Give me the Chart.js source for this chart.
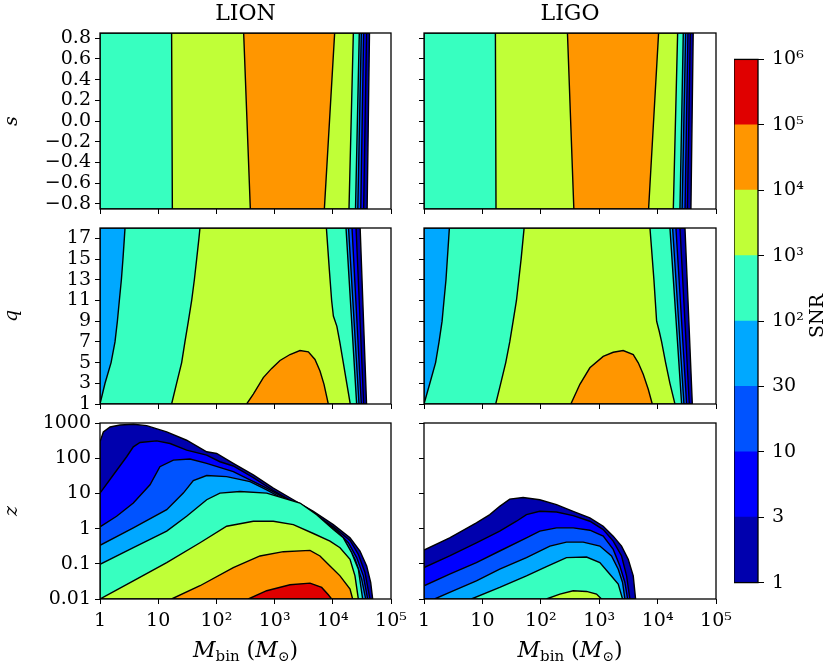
<!DOCTYPE html>
<html>
<head>
<meta charset="utf-8">
<script src="https://cdn.jsdelivr.net/npm/chart.js@4.4.0/dist/chart.umd.min.js"></script>
<style>
body { margin: 0; background: #fff; }
#wrap { position: relative; width: 830px; height: 668px; overflow: hidden; background: #fff; }
canvas { position: absolute; }
</style>
</head>
<body>
<div id="wrap"></div>
<script>
// colours of the 8 SNR bands (1-3, 3-10, 10-30, 30-100, 1e2-1e3, 1e3-1e4, 1e4-1e5, 1e5-1e6)
var bandColors = ['#0000ae', '#0000ff', '#0053ff', '#00a8ff', '#37ffc0', '#c0ff37', '#ff9600', '#e00000'];
var cbTickText = ['1', '3', '10', '30', '10²', '10³', '10⁴', '10⁵', '10⁶'];

var xTickVals = [1, 10, 100, 1000, 10000, 100000];
var xTickText = ['1', '10', '10²', '10³', '10⁴', '10⁵'];
var sTickVals = [-0.8, -0.6, -0.4, -0.2, 0, 0.2, 0.4, 0.6, 0.8];
var sTickText = ['−0.8', '−0.6', '−0.4', '−0.2', '0.0', '0.2', '0.4', '0.6', '0.8'];
var qTickVals = [1, 3, 5, 7, 9, 11, 13, 15, 17];
var qTickText = ['1', '3', '5', '7', '9', '11', '13', '15', '17'];
var zTickVals = [0.01, 0.1, 1, 10, 100, 1000];
var zTickText = ['0.01', '0.1', '1', '10', '100', '1000'];

// ---- contour lines, [M_bin, y] ----
// s panels: left edge and contour positions at s = -0.85 / 0.85
var edgeS = [[1, -0.85], [1, 0.85]];
var lionS1e3lo = [[17.5, -0.85], [17.0, 0.85]];
var lionS1e4lo = [[383, -0.85], [294, 0.85]];
var lionS1e4hi = [[7160, -0.85], [10760, 0.85]];
var lionS1e3hi = [[18970, -0.85], [22540, 0.85]];
var lionS100hi = [[24550, -0.85], [28510, 0.85]];
var lionS30hi = [[26900, -0.85], [30900, 0.85]];
var lionS10hi = [[30200, -0.85], [33900, 0.85]];
var lionS3hi = [[33900, -0.85], [38000, 0.85]];
var lionS1hi = [[38900, -0.85], [42700, 0.85]];

var ligoS1e3lo = [[17.1, -0.85], [16.7, 0.85]];
var ligoS1e4lo = [[368, -0.85], [286, 0.85]];
var ligoS1e4hi = [[7010, -0.85], [10400, 0.85]];
var ligoS1e3hi = [[18580, -0.85], [22030, 0.85]];
var ligoS100hi = [[24150, -0.85], [27540, 0.85]];
var ligoS30hi = [[26300, -0.85], [30200, 0.85]];
var ligoS10hi = [[29500, -0.85], [33100, 0.85]];
var ligoS3hi = [[32400, -0.85], [36300, 0.85]];
var ligoS1hi = [[37200, -0.85], [40700, 0.85]];

// q panels
var edgeQ = [[1, 1], [1, 18]];
var lionQ100lo = [[1, 1], [1.22, 3], [1.55, 5], [1.81, 7], [1.99, 9], [2.15, 11], [2.33, 13], [2.48, 15], [2.62, 17], [2.69, 18]];
var lionQ1e3lo = [[17.0, 1], [20.7, 3], [25.3, 5], [28.8, 7], [33.0, 9], [37.6, 11], [41.8, 13], [45.8, 15], [50.1, 17], [52.2, 18]];
var lionQ1e3hi = [[19950, 1], [17380, 3], [15140, 5], [13180, 7], [11750, 8.5], [10230, 9.5], [9550, 11], [8710, 14], [7760, 18]];
var lionQ100hi = [[25700, 1], [16870, 18]];
var lionQ30hi = [[28200, 1], [18620, 18]];
var lionQ10hi = [[30900, 1], [21380, 18]];
var lionQ3hi = [[33900, 1], [25100, 18]];
var lionQ1hi = [[38000, 1], [29500, 18]];
var lionQ1e4 = [[331, 1], [431, 1.96], [640, 3.55], [891, 4.44], [1239, 5.2], [1841, 5.78], [2729, 6.16], [3802, 6.04], [4943, 5.3], [6026, 4.19], [7063, 2.9], [8375, 1]];

var ligoQ100lo = [[1, 1], [1.26, 3], [1.58, 5], [1.81, 7], [2.04, 9], [2.2, 11], [2.38, 13], [2.51, 15], [2.65, 17], [2.72, 18]];
var ligoQ1e3lo = [[16.9, 1], [20.6, 3], [25.1, 5], [29.4, 7], [33.6, 9], [38.3, 11], [42.0, 13], [46.0, 15], [49.8, 17], [51.8, 18]];
var ligoQ1e3hi = [[19820, 1], [16260, 3], [13710, 5], [11720, 7], [10690, 8], [9620, 9], [9120, 11], [8650, 13], [7400, 18]];
var ligoQ100hi = [[25780, 1], [16270, 18]];
var ligoQ30hi = [[28250, 1], [18070, 18]];
var ligoQ10hi = [[31410, 1], [20610, 18]];
var ligoQ3hi = [[34910, 1], [24150, 18]];
var ligoQ1hi = [[39300, 1], [29420, 18]];
var ligoQ1e4 = [[327, 1], [467, 2.9], [692, 4.5], [1172, 5.6], [1738, 6.0], [2576, 6.16], [3828, 5.78], [4667, 4.98], [5675, 3.87], [6918, 2.43], [8110, 1]];

// z panels: upper edge of each SNR level
var lionZ1 = [[1, 291], [1.14, 557], [1.49, 771], [2.21, 879], [3.74, 917], [6.34, 841], [14.0, 557], [30.8, 324], [68.1, 152], [101, 136], [195, 71.3], [431, 33.4], [951, 14.1], [2099, 6.6], [4634, 3.09], [10210, 1.30], [19770, 0.548], [29310, 0.231], [38190, 0.087], [44770, 0.0295], [48420, 0.01]];
var lionZ3 = [[1, 10.2], [1.69, 33.4], [2.87, 110], [3.74, 210], [4.87, 279], [9.41, 310], [16.0, 261], [30.8, 169], [68.1, 122], [115, 79.4], [195, 60], [431, 28.1], [951, 12.1], [2099, 5.68], [4634, 2.66], [10210, 1.12], [19770, 0.461], [27480, 0.186], [35730, 0.0565], [43550, 0.01]];
var lionZ10 = [[1, 1.12], [1.93, 2.24], [3.74, 5.32], [7.23, 17.5], [10.7, 57.4], [18.2, 88.5], [35.2, 94.6], [68.1, 71.3], [195, 41.5], [731, 14.1], [2729, 4.29], [10210, 1.05], [18490, 0.396], [25700, 0.15], [33500, 0.0455], [39700, 0.01]];
var lionZ30 = [[1, 0.333], [3.74, 1.05], [14.0, 3.45], [27.0, 10.2], [40.1, 23.2], [68.1, 32.1], [150, 30.0], [378, 21.7], [731, 12.6], [2729, 3.85], [10210, 0.94], [17300, 0.356], [24050, 0.134], [31330, 0.0366], [36730, 0.01]];
var lionZ100 = [[1, 0.097], [3.74, 0.286], [14.0, 0.845], [30.8, 2.24], [68.1, 6.61], [115, 10.2], [254, 11.3], [731, 10.2], [2729, 5.32], [5280, 2.49], [10210, 0.94], [15170, 0.548], [21080, 0.207], [27480, 0.0702], [32590, 0.01]];
var lionZ1e3 = [[1, 0.01], [3.74, 0.0329], [14.0, 0.108], [52.3, 0.396], [150, 1.17], [431, 1.62], [951, 1.62], [2099, 1.30], [4634, 0.726], [8950, 0.442], [13300, 0.286], [19770, 0.134], [24050, 0.0455], [27480, 0.01]];
var lionZ1e4 = [[17.0, 0.01], [52.3, 0.0238], [195, 0.0782], [561, 0.167], [1413, 0.221], [4055, 0.241], [6026, 0.167], [8950, 0.087], [13300, 0.0455], [19770, 0.0191], [21930, 0.01]];
var lionZ1e5 = [[354, 0.01], [731, 0.0172], [1841, 0.0254], [4055, 0.0283], [6442, 0.0213], [8375, 0.0132], [9570, 0.01]];

var ligoZ1 = [[1, 0.246], [2.75, 0.548], [7.89, 1.45], [13.4, 2.49], [19.8, 4.29], [29.4, 6.89], [49.8, 7.67], [96.1, 6.61], [186, 4.78], [358, 3.10], [692, 2.01], [1172, 1.17], [1738, 0.611], [2415, 0.319], [3141, 0.134], [3828, 0.0455], [4198, 0.01]];
var ligoZ3 = [[1, 0.0782], [2.75, 0.167], [7.89, 0.396], [19.8, 0.845], [38.3, 1.62], [56.8, 2.49], [96.1, 3.10], [186, 2.97], [358, 2.33], [692, 1.62], [1172, 0.94], [1738, 0.442], [2415, 0.167], [2944, 0.0455], [3357, 0.01]];
var ligoZ10 = [[1, 0.0238], [2.75, 0.0507], [7.89, 0.108], [19.8, 0.231], [56.8, 0.548], [96.1, 0.845], [186, 1.05], [358, 1.05], [692, 0.901], [1172, 0.611], [1738, 0.257], [2259, 0.087], [2754, 0.0295], [3062, 0.01]];
var ligoZ30 = [[1.52, 0.01], [2.75, 0.0154], [7.89, 0.0329], [19.8, 0.0702], [56.8, 0.15], [143, 0.319], [275, 0.414], [532, 0.414], [1026, 0.319], [1626, 0.167], [2118, 0.0702], [2512, 0.0295], [2754, 0.01]];
var ligoZ100 = [[6.48, 0.01], [19.8, 0.0213], [56.8, 0.0455], [125, 0.0834], [275, 0.15], [607, 0.156], [1026, 0.108], [1524, 0.0507], [2118, 0.0265], [2512, 0.01]];
var ligoZ1e3 = [[125, 0.01], [212, 0.0138], [358, 0.0172], [607, 0.0164], [900, 0.0138], [1096, 0.01]];

var FONT = 'DejaVu Serif';
var FS = 19;

// polygon between a left and a right contour (both listed bottom to top)
function band(left, right) {
  var pts = left.concat(right.slice().reverse());
  pts.push(left[0]);
  return pts;
}
// polygon under a z contour, down to z = 0.01
function under(curve) {
  var pts = [];
  if (curve[0][1] > 0.01) pts.push([1, 0.01]);
  pts = pts.concat(curve);
  pts.push(pts[0]);
  return pts;
}
function closed(curve) {
  return curve.concat([curve[0]]);
}

function makeSets(polys) {
  // polys[k] = [polygon, level index]
  return polys.map(function (p) {
    return {
      data: p[0].map(function (v) { return { x: v[0], y: v[1] }; }),
      showLine: true,
      fill: 'shape',
      backgroundColor: bandColors[p[1]],
      borderColor: '#000',
      borderWidth: 1.4,
      pointRadius: 0,
      pointHoverRadius: 0,
      tension: 0,
      order: 20 - p[1]
    };
  });
}

var framePlugin = {
  id: 'frame',
  afterDatasetsDraw: function (chart) {
    var a = chart.chartArea, c = chart.ctx;
    c.save();
    c.strokeStyle = '#000';
    c.lineWidth = 1.3;
    c.strokeRect(a.left, a.top, a.right - a.left, a.bottom - a.top);
    c.restore();
  }
};

var wrap = document.getElementById('wrap');
function addCanvas(left, top, w, h) {
  var cv = document.createElement('canvas');
  cv.width = w; cv.height = h;
  cv.style.left = left + 'px'; cv.style.top = top + 'px';
  cv.style.width = w + 'px'; cv.style.height = h + 'px';
  wrap.appendChild(cv);
  return cv;
}

var colX = [[100, 391], [424, 716]];
var rowY = [[33, 209], [228, 404], [423, 599]];

function panel(col, row, yCfg, polys, title) {
  var x0 = colX[col][0], x1 = colX[col][1];
  var y0 = rowY[row][0], y1 = rowY[row][1];
  var padTop = row === 0 ? 33 : 20;
  var xH = row === 2 ? 69 : 20;
  var w = 100 + (x1 - x0) + 30;
  var h = padTop + (y1 - y0) + xH;
  var cv = addCanvas(x0 - 100, y0 - padTop, w, h);
  var plugins = [framePlugin];
  if (title) {
    plugins.push({
      id: 'head',
      afterDraw: function (chart) {
        var c = chart.ctx, a = chart.chartArea;
        c.save();
        c.font = '22px "' + FONT + '"';
        c.fillStyle = '#000';
        c.textAlign = 'center';
        c.textBaseline = 'alphabetic';
        c.fillText(title, (a.left + a.right) / 2, 20);
        c.restore();
      }
    });
  }
  if (row === 2) {
    plugins.push({
      id: 'xlabel',
      afterDraw: function (chart) {
        var c = chart.ctx, a = chart.chartArea;
        var parts = [
          ['M', 'italic 22px "' + FONT + '"', 0],
          ['bin', '15px "' + FONT + '"', 4],
          [' (', '22px "' + FONT + '"', 0],
          ['M', 'italic 22px "' + FONT + '"', 0],
          ['⊙', '14px "' + FONT + '"', 4],
          [')', '22px "' + FONT + '"', 0]
        ];
        c.save();
        c.fillStyle = '#000';
        c.textBaseline = 'alphabetic';
        var total = 0;
        parts.forEach(function (p) { c.font = p[1]; total += c.measureText(p[0]).width; });
        var x = (a.left + a.right) / 2 - total / 2;
        var base = 657 - (y0 - padTop);
        parts.forEach(function (p) {
          c.font = p[1];
          c.fillText(p[0], x, base + p[2]);
          x += c.measureText(p[0]).width;
        });
        c.restore();
      }
    });
  }
  var showY = col === 0, showX = row === 2;
  new Chart(cv, {
    type: 'scatter',
    data: { datasets: makeSets(polys) },
    options: {
      responsive: false,
      animation: false,
      devicePixelRatio: 1,
      layout: { padding: { left: 0, right: 30, top: padTop, bottom: 0 } },
      plugins: { legend: { display: false }, tooltip: { enabled: false } },
      scales: {
        x: {
          type: 'logarithmic', min: 1, max: 100000,
          afterBuildTicks: function (s) { s.ticks = xTickVals.map(function (v) { return { value: v }; }); },
          afterFit: function (s) { s.height = xH; },
          ticks: {
            maxRotation: 0, autoSkip: false, padding: 6, color: '#000',
            font: { family: FONT, size: FS },
            callback: function (v, i) { return showX ? xTickText[i] : ''; }
          },
          grid: { display: true, drawOnChartArea: false, drawTicks: true, tickLength: 5, color: '#000', lineWidth: 1 },
          border: { display: false }
        },
        y: {
          type: yCfg.type, min: yCfg.min, max: yCfg.max,
          afterBuildTicks: function (s) { s.ticks = yCfg.vals.map(function (v) { return { value: v }; }); },
          afterFit: function (s) { s.width = 100; },
          ticks: {
            autoSkip: false, padding: 4, color: '#000',
            font: { family: FONT, size: FS },
            callback: function (v, i) { return showY ? yCfg.text[i] : ''; }
          },
          title: {
            display: showY, text: yCfg.title, color: '#000', padding: { top: 1, bottom: 0 },
            font: { family: FONT, size: FS, style: 'italic' }
          },
          grid: { display: true, drawOnChartArea: false, drawTicks: true, tickLength: 5, color: '#000', lineWidth: 1 },
          border: { display: false }
        }
      }
    },
    plugins: plugins
  });
}

var sAxis = { type: 'linear', min: -0.85, max: 0.85, vals: sTickVals, text: sTickText, title: 's' };
var qAxis = { type: 'linear', min: 1, max: 18, vals: qTickVals, text: qTickText, title: 'q' };
var zAxis = { type: 'logarithmic', min: 0.01, max: 1000, vals: zTickVals, text: zTickText, title: 'z' };

panel(0, 0, sAxis, [
  [band(edgeS, lionS1hi), 0], [band(edgeS, lionS3hi), 1], [band(edgeS, lionS10hi), 2],
  [band(edgeS, lionS30hi), 3], [band(edgeS, lionS100hi), 4],
  [band(lionS1e3lo, lionS1e3hi), 5], [band(lionS1e4lo, lionS1e4hi), 6]
], 'LION');
panel(1, 0, sAxis, [
  [band(edgeS, ligoS1hi), 0], [band(edgeS, ligoS3hi), 1], [band(edgeS, ligoS10hi), 2],
  [band(edgeS, ligoS30hi), 3], [band(edgeS, ligoS100hi), 4],
  [band(ligoS1e3lo, ligoS1e3hi), 5], [band(ligoS1e4lo, ligoS1e4hi), 6]
], 'LIGO');
panel(0, 1, qAxis, [
  [band(edgeQ, lionQ1hi), 0], [band(edgeQ, lionQ3hi), 1], [band(edgeQ, lionQ10hi), 2],
  [band(edgeQ, lionQ30hi), 3], [band(lionQ100lo, lionQ100hi), 4],
  [band(lionQ1e3lo, lionQ1e3hi), 5], [closed(lionQ1e4), 6]
]);
panel(1, 1, qAxis, [
  [band(edgeQ, ligoQ1hi), 0], [band(edgeQ, ligoQ3hi), 1], [band(edgeQ, ligoQ10hi), 2],
  [band(edgeQ, ligoQ30hi), 3], [band(ligoQ100lo, ligoQ100hi), 4],
  [band(ligoQ1e3lo, ligoQ1e3hi), 5], [closed(ligoQ1e4), 6]
]);
panel(0, 2, zAxis, [
  [under(lionZ1), 0], [under(lionZ3), 1], [under(lionZ10), 2], [under(lionZ30), 3],
  [under(lionZ100), 4], [under(lionZ1e3), 5], [under(lionZ1e4), 6], [under(lionZ1e5), 7]
]);
panel(1, 2, zAxis, [
  [under(ligoZ1), 0], [under(ligoZ3), 1], [under(ligoZ10), 2], [under(ligoZ30), 3],
  [under(ligoZ100), 4], [under(ligoZ1e3), 5]
]);

// colour bar
var cbCanvas = addCanvas(734, 40, 96, 562);
new Chart(cbCanvas, {
  type: 'bar',
  data: {
    labels: ['SNR'],
    datasets: bandColors.map(function (col, i) {
      return { data: [[i, i + 1]], backgroundColor: col, borderWidth: 0, barPercentage: 1, categoryPercentage: 1 };
    })
  },
  options: {
    responsive: false,
    animation: false,
    devicePixelRatio: 1,
    layout: { padding: { left: 0, right: 0, top: 14, bottom: 19 } },
    plugins: { legend: { display: false }, tooltip: { enabled: false } },
    scales: {
      x: { stacked: true, display: false },
      y: {
        position: 'right', min: 0, max: 8,
        afterBuildTicks: function (s) { s.ticks = cbTickText.map(function (t, i) { return { value: i }; }); },
        afterFit: function (s) { s.width = 72; },
        ticks: {
          padding: 8, color: '#000', font: { family: FONT, size: FS },
          callback: function (v, i) { return cbTickText[i]; }
        },
        grid: { display: true, drawOnChartArea: false, drawTicks: true, tickLength: 6, color: '#000', lineWidth: 1 },
        border: { display: false }
      }
    }
  },
  plugins: [framePlugin, {
    id: 'cblabel',
    afterDraw: function (chart) {
      var c = chart.ctx;
      c.save();
      c.translate(84, 276);
      c.rotate(-Math.PI / 2);
      c.font = FS + 'px "' + FONT + '"';
      c.fillStyle = '#000';
      c.textAlign = 'center';
      c.textBaseline = 'middle';
      c.fillText('SNR', 0, 0);
      c.restore();
    }
  }]
});
</script>
</body>
</html>
